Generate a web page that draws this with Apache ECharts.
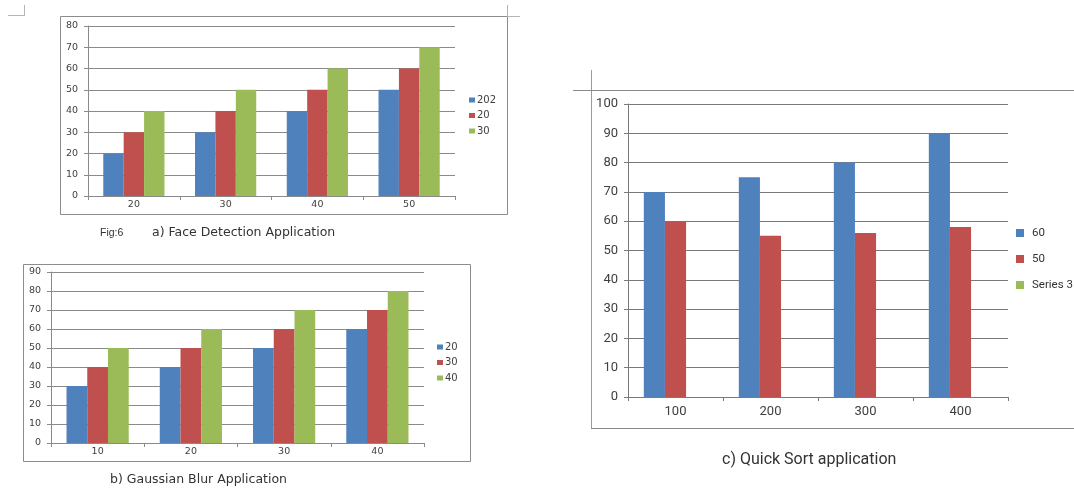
<!DOCTYPE html>
<html>
<head>
<meta charset="utf-8">
<script src="https://cdn.jsdelivr.net/npm/echarts@6/dist/echarts.min.js"></script>
<style>
html,body{margin:0;padding:0;background:#fff;}
#main{width:1074px;height:490px;}
</style>
</head>
<body>
<div id="main"></div>
<script>
// ---- Data ----
// a) Face Detection Application
const faceCategories = ['20', '30', '40', '50'];
const faceSeriesNames = ['202', '20', '30'];
const faceBlue = [20, 30, 40, 50];
const faceRed = [30, 40, 50, 60];
const faceGreen = [40, 50, 60, 70];
// b) Gaussian Blur Application
const blurCategories = ['10', '20', '30', '40'];
const blurSeriesNames = ['20', '30', '40'];
const blurBlue = [30, 40, 50, 60];
const blurRed = [40, 50, 60, 70];
const blurGreen = [50, 60, 70, 80];
// c) Quick Sort application
const sortCategories = ['100', '200', '300', '400'];
const sortSeriesNames = ['60', '50', 'Series 3'];
const sortBlue = [70, 75, 80, 90];
const sortRed = [60, 55, 56, 58];
const sortGreen = [];

const BLUE = '#4F81BD', RED = '#C0504D', GREEN = '#9BBB59';
const colors = [BLUE, RED, GREEN];

const chart = echarts.init(document.getElementById('main'), null, {renderer: 'canvas'});

const smallFont = 'DejaVu Sans';
const gridLineCol = '#8a8a8a';

function xAxisCfg(gi, cats, font, size, margin, col) {
  return {
    type: 'category', gridIndex: gi, data: cats, boundaryGap: true,
    axisLine: {show: true, lineStyle: {color: col, width: 1}},
    axisTick: {show: true, alignWithLabel: false, length: 4, lineStyle: {color: col}},
    axisLabel: {fontFamily: font, fontSize: size, color: '#404040', margin: margin},
    splitLine: {show: false}
  };
}
function yAxisCfg(gi, max, font, size, margin, col) {
  return {
    type: 'value', gridIndex: gi, min: 0, max: max, interval: 10,
    axisLine: {show: true, lineStyle: {color: col, width: 1}},
    axisTick: {show: true, length: 4, lineStyle: {color: col}},
    axisLabel: {fontFamily: font, fontSize: size, color: '#404040', margin: margin},
    splitLine: {show: true, lineStyle: {color: col, width: 1}}
  };
}

const series = [];
function addSeries(prefix, names, datas, gi) {
  names.forEach((n, i) => {
    series.push({
      type: 'bar', name: prefix + n, xAxisIndex: gi, yAxisIndex: gi,
      data: datas[i], barGap: '0%', barCategoryGap: '33.3%',
      itemStyle: {color: colors[i]}, emphasis: {disabled: true}
    });
  });
}
addSeries('a', faceSeriesNames, [faceBlue, faceRed, faceGreen], 0);
addSeries('b', blurSeriesNames, [blurBlue, blurRed, blurGreen], 1);
addSeries('c', sortSeriesNames, [sortBlue, sortRed, sortGreen], 2);

const stripPrefix = name => name.slice(1);

const option = {
  animation: false,
  backgroundColor: '#ffffff',
  grid: [
    {left: 88, top: 26, width: 367, height: 170, containLabel: false},
    {left: 51, top: 272, width: 373, height: 171, containLabel: false},
    {left: 628, top: 104, width: 380, height: 293, containLabel: false}
  ],
  xAxis: [
    xAxisCfg(0, faceCategories, smallFont, 9.5, 4, gridLineCol),
    xAxisCfg(1, blurCategories, smallFont, 9.5, 4, gridLineCol),
    xAxisCfg(2, sortCategories, 'Roboto', 13, 8, '#7a7a7a')
  ],
  yAxis: [
    yAxisCfg(0, 80, smallFont, 9.5, 10, gridLineCol),
    yAxisCfg(1, 90, smallFont, 9.5, 10, gridLineCol),
    yAxisCfg(2, 100, 'Roboto', 13, 10, '#7a7a7a')
  ],
  legend: [
    {
      orient: 'vertical', left: 469, top: 94, padding: 0,
      itemWidth: 6, itemHeight: 5, itemGap: 3.5, icon: 'rect',
      data: faceSeriesNames.map(n => 'a' + n), formatter: stripPrefix,
      textStyle: {fontFamily: smallFont, fontSize: 10, color: '#404040', lineHeight: 12, padding: [0, 0, 0, -3]},
      selectedMode: false
    },
    {
      orient: 'vertical', left: 437, top: 341, padding: 0,
      itemWidth: 6, itemHeight: 5, itemGap: 3.5, icon: 'rect',
      data: blurSeriesNames.map(n => 'b' + n), formatter: stripPrefix,
      textStyle: {fontFamily: smallFont, fontSize: 10, color: '#404040', lineHeight: 12, padding: [0, 0, 0, -3]},
      selectedMode: false
    },
    {
      orient: 'vertical', left: 1016, top: 225, padding: 0,
      itemWidth: 8, itemHeight: 8, itemGap: 10, icon: 'rect',
      data: sortSeriesNames.map(n => 'c' + n), formatter: stripPrefix,
      textStyle: {fontFamily: 'Roboto', fontSize: 11.5, color: '#333333', lineHeight: 16, padding: [0, 0, 0, 3]},
      selectedMode: false
    }
  ],
  title: [
    {text: 'Fig:6', left: 100, top: 226, padding: 0,
     textStyle: {fontFamily: 'Liberation Sans', fontSize: 10.5, fontWeight: 'normal', color: '#333', lineHeight: 14}},
    {text: 'a) Face Detection Application', left: 152, top: 225, padding: 0,
     textStyle: {fontFamily: 'DejaVu Sans', fontSize: 12.5, fontWeight: 'normal', color: '#333', lineHeight: 16}},
    {text: 'b) Gaussian Blur Application', left: 110, top: 472, padding: 0,
     textStyle: {fontFamily: 'DejaVu Sans', fontSize: 12.5, fontWeight: 'normal', color: '#333', lineHeight: 16}},
    {text: 'c) Quick Sort application', left: 722, top: 450, padding: 0,
     textStyle: {fontFamily: 'Roboto', fontSize: 16, fontWeight: 'normal', color: '#333', lineHeight: 20}}
  ],
  graphic: [
    // chart a frame
    {type: 'rect', shape: {x: 60.5, y: 16.5, width: 447, height: 198}, style: {fill: 'none', stroke: '#8c8c8c', lineWidth: 1}, silent: true},
    // chart b frame
    {type: 'rect', shape: {x: 23.5, y: 264.5, width: 447, height: 197}, style: {fill: 'none', stroke: '#8c8c8c', lineWidth: 1}, silent: true},
    // chart c frame lines
    {type: 'line', shape: {x1: 591.5, y1: 70, x2: 591.5, y2: 428.5}, style: {stroke: '#9a9a9a', lineWidth: 1}, silent: true},
    {type: 'line', shape: {x1: 573, y1: 90.5, x2: 1074, y2: 90.5}, style: {stroke: '#8a8a8a', lineWidth: 1}, silent: true},
    {type: 'line', shape: {x1: 591, y1: 428.5, x2: 1074, y2: 428.5}, style: {stroke: '#8a8a8a', lineWidth: 1}, silent: true},
    // page corner marks
    {type: 'line', shape: {x1: 8, y1: 15.5, x2: 24, y2: 15.5}, style: {stroke: '#b5b5b5', lineWidth: 1}, silent: true},
    {type: 'line', shape: {x1: 24.5, y1: 5, x2: 24.5, y2: 16}, style: {stroke: '#b5b5b5', lineWidth: 1}, silent: true},
    {type: 'line', shape: {x1: 507.5, y1: 5, x2: 507.5, y2: 17}, style: {stroke: '#b5b5b5', lineWidth: 1}, silent: true},
    {type: 'line', shape: {x1: 507, y1: 16.5, x2: 520, y2: 16.5}, style: {stroke: '#b5b5b5', lineWidth: 1}, silent: true}
  ],
  series: series
};
chart.setOption(option);
</script>
</body>
</html>
